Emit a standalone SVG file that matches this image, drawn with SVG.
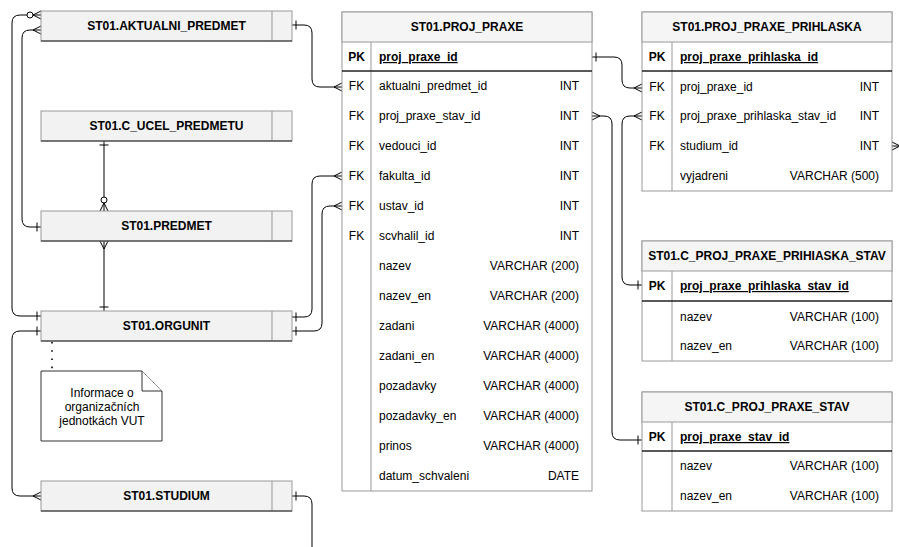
<svg xmlns="http://www.w3.org/2000/svg" width="899" height="547" viewBox="0 0 899 547">
<style>
text{font-family:"Liberation Sans",Arial,sans-serif;font-size:12px;fill:#000}
.hdr{font-weight:bold;text-anchor:middle}
.pk{font-weight:bold}
.pkn{font-weight:bold;text-decoration:underline}
.k{text-anchor:middle}
.t{text-anchor:end}
.ent{fill:#f2f2f2;stroke:#999;stroke-width:1}
.bot{stroke:#222;stroke-width:1}
.gl{stroke:#999;stroke-width:1}
.tbl{fill:#fff;stroke:#999;stroke-width:1}
.th{fill:#f5f5f5;stroke:#999;stroke-width:1}
.pkl{stroke:#222;stroke-width:1.3}
.c{fill:none;stroke:#000;stroke-width:1}
.note{fill:#fff;stroke:#333;stroke-width:1}
</style>
<defs>
<marker id="many" markerUnits="userSpaceOnUse" markerWidth="12" markerHeight="12" refX="10" refY="6" orient="auto-start-reverse" overflow="visible"><path d="M2,6 L10,2 M2,6 L10,10" fill="none" stroke="#000" stroke-width="1"/></marker>
<marker id="one" markerUnits="userSpaceOnUse" markerWidth="12" markerHeight="12" refX="10" refY="6" orient="auto-start-reverse" overflow="visible"><path d="M6,1.5 L6,10.5" fill="none" stroke="#000" stroke-width="1"/></marker>
<marker id="zmany" markerUnits="userSpaceOnUse" markerWidth="20" markerHeight="12" refX="18" refY="6" orient="auto-start-reverse" overflow="visible"><path d="M10,6 L18,2 M10,6 L18,10" fill="none" stroke="#000" stroke-width="1"/><circle cx="7" cy="6" r="3" fill="#fff" stroke="#000" stroke-width="1"/></marker>
</defs>
<rect width="899" height="547" fill="#fff"/>

<g id="connectors">
<path class="c" d="M41,316 H20 Q12,316 12,308 V23 Q12,15 20,15 H41" marker-start="url(#one)" marker-end="url(#zmany)"/>
<path class="c" d="M41,227 H30 Q22,227 22,219 V38 Q22,30 30,30 H41" marker-start="url(#one)" marker-end="url(#many)"/>
<path class="c" d="M104,141 V211" marker-start="url(#one)" marker-end="url(#zmany)"/>
<path class="c" d="M104,311 V241" marker-start="url(#one)" marker-end="url(#many)"/>
<path class="c" d="M292,317 H304 Q312,317 312,309 V184 Q312,176 320,176 H342" marker-start="url(#one)" marker-end="url(#many)"/>
<path class="c" d="M292,331 H314 Q322,331 322,323 V214 Q322,206 330,206 H342" marker-start="url(#one)" marker-end="url(#many)"/>
<path class="c" d="M41,331 H20 Q12,331 12,339 V488 Q12,496 20,496 H41" marker-start="url(#one)" marker-end="url(#many)"/>
<path class="c" d="M292,496 H304 Q312,496 312,504 V550" marker-start="url(#one)"/>
<path class="c" d="M292,25 H304 Q312,25 312,33 V79 Q312,87 320,87 H342" marker-start="url(#one)" marker-end="url(#many)"/>
<path class="c" d="M592,57 H614 Q622,57 622,65 V80 Q622,88 630,88 H642" marker-start="url(#one)" marker-end="url(#many)"/>
<path class="c" d="M592,116 H604 Q612,116 612,124 V432 Q612,440 620,440 H642" marker-start="url(#many)" marker-end="url(#one)"/>
<path class="c" d="M642,116 H630 Q622,116 622,124 V277 Q622,285 630,285 H642" marker-start="url(#many)" marker-end="url(#one)"/>
<path class="c" d="M892,146 H905" marker-start="url(#many)"/>
<path d="M52,342 V371" fill="none" stroke="#000" stroke-width="1.6" stroke-dasharray="1.6 6.6"/>
</g>

<g id="aktualni_predmet">
<rect class="ent" x="41" y="11" width="251" height="30"/>
<line class="gl" x1="272" y1="11" x2="272" y2="41"/>
<line class="bot" x1="41" y1="41" x2="292" y2="41"/>
<text class="hdr" x="166.5" y="30">ST01.AKTUALNI_PREDMET</text>
</g>
<g id="c_ucel_predmetu">
<rect class="ent" x="41" y="111" width="251" height="30"/>
<line class="gl" x1="272" y1="111" x2="272" y2="141"/>
<line class="bot" x1="41" y1="141" x2="292" y2="141"/>
<text class="hdr" x="166.5" y="130">ST01.C_UCEL_PREDMETU</text>
</g>
<g id="predmet">
<rect class="ent" x="41" y="211" width="251" height="30"/>
<line class="gl" x1="272" y1="211" x2="272" y2="241"/>
<line class="bot" x1="41" y1="241" x2="292" y2="241"/>
<text class="hdr" x="166.5" y="230">ST01.PREDMET</text>
</g>
<g id="orgunit">
<rect class="ent" x="41" y="311" width="251" height="30"/>
<line class="gl" x1="272" y1="311" x2="272" y2="341"/>
<line class="bot" x1="41" y1="341" x2="292" y2="341"/>
<text class="hdr" x="166.5" y="330">ST01.ORGUNIT</text>
</g>
<g id="studium">
<rect class="ent" x="41" y="481" width="251" height="30"/>
<line class="gl" x1="272" y1="481" x2="272" y2="511"/>
<line class="bot" x1="41" y1="511" x2="292" y2="511"/>
<text class="hdr" x="166.5" y="500">ST01.STUDIUM</text>
</g>
<g id="note">
<path class="note" d="M41,371 H142 L162,391 V441 H41 Z"/>
<path class="note" d="M142,371 V391 H162" fill="none"/>
<text class="k" x="102" y="397">Informace o</text>
<text class="k" x="102" y="411">organizačních</text>
<text class="k" x="102" y="425">jednotkách VUT</text>
</g>

<g id="proj_praxe">
<rect class="tbl" x="342" y="12" width="250" height="479"/>
<rect class="th" x="342" y="12" width="250" height="30"/>
<line class="gl" x1="371" y1="42" x2="371" y2="491"/>
<line class="pkl" x1="342" y1="71" x2="592" y2="71"/>
<text class="hdr" x="467" y="31">ST01.PROJ_PRAXE</text>
<text class="pk k" x="356.5" y="61">PK</text><text class="pkn" x="379" y="61">proj_praxe_id</text>
<text class="k" x="356.5" y="90">FK</text><text x="379" y="90">aktualni_predmet_id</text><text class="t" x="579" y="90">INT</text>
<text class="k" x="356.5" y="120">FK</text><text x="379" y="120">proj_praxe_stav_id</text><text class="t" x="579" y="120">INT</text>
<text class="k" x="356.5" y="150">FK</text><text x="379" y="150">vedouci_id</text><text class="t" x="579" y="150">INT</text>
<text class="k" x="356.5" y="180">FK</text><text x="379" y="180">fakulta_id</text><text class="t" x="579" y="180">INT</text>
<text class="k" x="356.5" y="210">FK</text><text x="379" y="210">ustav_id</text><text class="t" x="579" y="210">INT</text>
<text class="k" x="356.5" y="240">FK</text><text x="379" y="240">scvhalil_id</text><text class="t" x="579" y="240">INT</text>
<text x="379" y="270">nazev</text><text class="t" x="579" y="270">VARCHAR (200)</text>
<text x="379" y="300">nazev_en</text><text class="t" x="579" y="300">VARCHAR (200)</text>
<text x="379" y="330">zadani</text><text class="t" x="579" y="330">VARCHAR (4000)</text>
<text x="379" y="360">zadani_en</text><text class="t" x="579" y="360">VARCHAR (4000)</text>
<text x="379" y="390">pozadavky</text><text class="t" x="579" y="390">VARCHAR (4000)</text>
<text x="379" y="420">pozadavky_en</text><text class="t" x="579" y="420">VARCHAR (4000)</text>
<text x="379" y="450">prinos</text><text class="t" x="579" y="450">VARCHAR (4000)</text>
<text x="379" y="480">datum_schvaleni</text><text class="t" x="579" y="480">DATE</text>
</g>

<g id="proj_praxe_prihlaska">
<rect class="tbl" x="642" y="12" width="250" height="179"/>
<rect class="th" x="642" y="12" width="250" height="30"/>
<line class="gl" x1="672" y1="42" x2="672" y2="191"/>
<line class="pkl" x1="642" y1="71" x2="892" y2="71"/>
<text class="hdr" x="767" y="31">ST01.PROJ_PRAXE_PRIHLASKA</text>
<text class="pk k" x="657" y="61">PK</text><text class="pkn" x="680" y="61">proj_praxe_prihlaska_id</text>
<text class="k" x="657" y="91">FK</text><text x="680" y="91">proj_praxe_id</text><text class="t" x="879" y="91">INT</text>
<text class="k" x="657" y="120">FK</text><text x="680" y="120">proj_praxe_prihlaska_stav_id</text><text class="t" x="879" y="120">INT</text>
<text class="k" x="657" y="150">FK</text><text x="680" y="150">studium_id</text><text class="t" x="879" y="150">INT</text>
<text x="680" y="180">vyjadreni</text><text class="t" x="879" y="180">VARCHAR (500)</text>
</g>

<g id="c_proj_praxe_prihiaska_stav">
<rect class="tbl" x="642" y="241" width="250" height="120"/>
<rect class="th" x="642" y="241" width="250" height="30"/>
<line class="gl" x1="672" y1="271" x2="672" y2="361"/>
<line class="pkl" x1="642" y1="301" x2="892" y2="301"/>
<text class="hdr" x="767" y="260">ST01.C_PROJ_PRAXE_PRIHIASKA_STAV</text>
<text class="pk k" x="657" y="290">PK</text><text class="pkn" x="680" y="290">proj_praxe_prihlaska_stav_id</text>
<text x="680" y="321">nazev</text><text class="t" x="879" y="321">VARCHAR (100)</text>
<text x="680" y="350">nazev_en</text><text class="t" x="879" y="350">VARCHAR (100)</text>
</g>

<g id="c_proj_praxe_stav">
<rect class="tbl" x="642" y="392" width="250" height="119"/>
<rect class="th" x="642" y="392" width="250" height="30"/>
<line class="gl" x1="672" y1="422" x2="672" y2="511"/>
<line class="pkl" x1="642" y1="451" x2="892" y2="451"/>
<text class="hdr" x="767" y="411">ST01.C_PROJ_PRAXE_STAV</text>
<text class="pk k" x="657" y="441">PK</text><text class="pkn" x="680" y="441">proj_praxe_stav_id</text>
<text x="680" y="470">nazev</text><text class="t" x="879" y="470">VARCHAR (100)</text>
<text x="680" y="500">nazev_en</text><text class="t" x="879" y="500">VARCHAR (100)</text>
</g>
</svg>
